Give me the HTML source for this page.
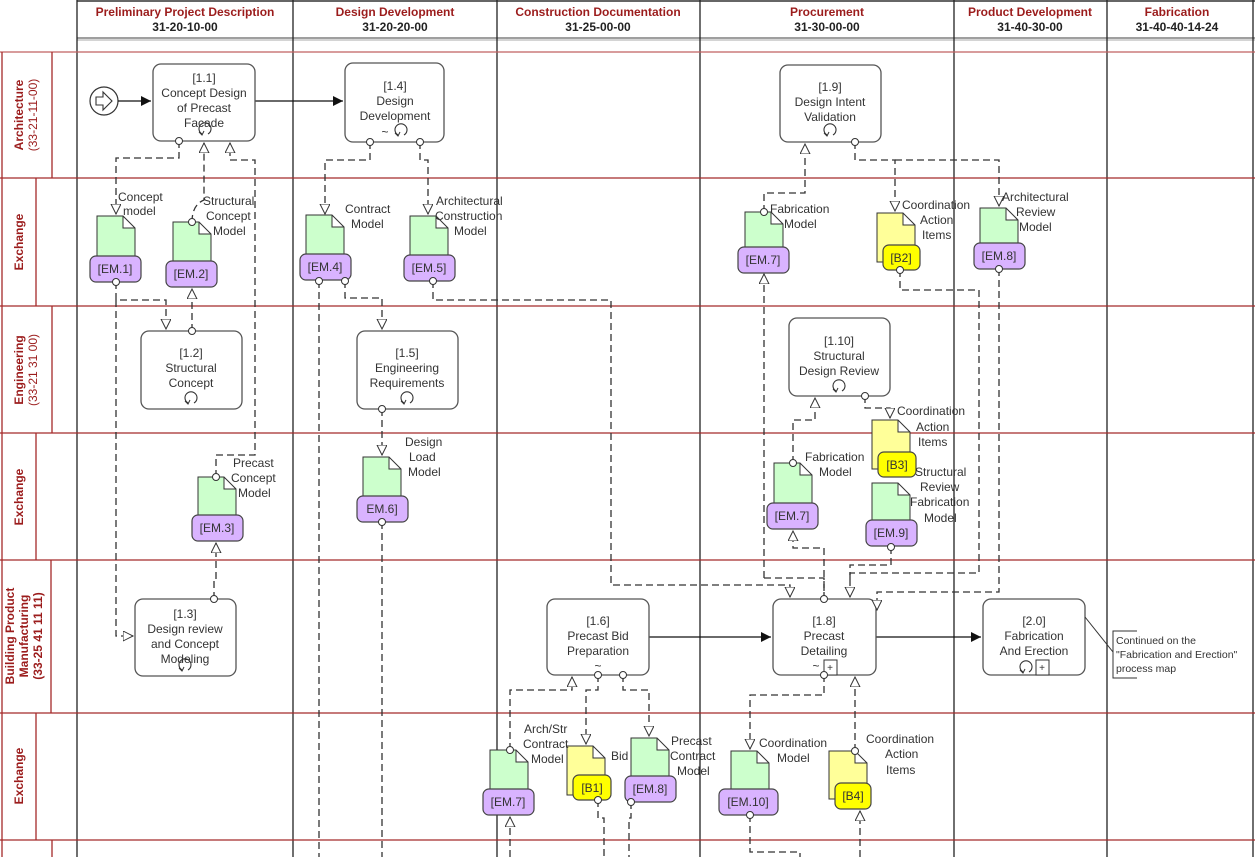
<!DOCTYPE html>
<html><head><meta charset="utf-8"><style>
html,body{margin:0;padding:0;background:#fff}
svg{display:block}
text{font-family:"Liberation Sans",sans-serif;font-size:12px;fill:#333}
.h{font-weight:bold;fill:#9b1c1c;font-size:12px}
.c{font-weight:bold;fill:#222;font-size:12px}
.lane{font-weight:bold;fill:#9b1c1c;font-size:12px}
.task{fill:#fff;stroke:#555;stroke-width:1.3}
.doc{fill:#ccffcc;stroke:#333;stroke-width:1}
.ydoc{fill:#ffff99;stroke:#333;stroke-width:1}
.pill{fill:#d9b3ff;stroke:#444;stroke-width:1.2}
.ypill{fill:#ffff00;stroke:#444;stroke-width:1.2}
.d{fill:none;stroke:#333;stroke-width:1.3;stroke-dasharray:7,4}
.s{fill:none;stroke:#111;stroke-width:1.2}
.rl{stroke:#a52a2a;stroke-width:1.3}
</style></head><body>
<svg width="1255" height="857" viewBox="0 0 1255 857" xmlns="http://www.w3.org/2000/svg">
<defs>
<marker id="tri" markerWidth="12" markerHeight="12" refX="10" refY="5" orient="auto" markerUnits="userSpaceOnUse"><path d="M0,0 L10,5 L0,10 Z" fill="#fff" stroke="#333" stroke-width="1"/></marker>
<marker id="cir" markerWidth="10" markerHeight="10" refX="5" refY="5" orient="auto" markerUnits="userSpaceOnUse"><circle cx="5" cy="5" r="3.5" fill="#fff" stroke="#333" stroke-width="1"/></marker>
<marker id="arr" markerWidth="12" markerHeight="12" refX="10" refY="5" orient="auto" markerUnits="userSpaceOnUse"><path d="M0,0 L10,5 L0,10 Z" fill="#111"/></marker>
<g id="loop"><path d="M-3,6 A6,6 0 1 1 3,6" fill="none" stroke="#333" stroke-width="1.1"/><path d="M-6,4 L-3,7 L-1,3" fill="none" stroke="#333" stroke-width="1"/></g>
</defs>

<!-- header -->
<line x1="77" y1="1" x2="1255" y2="1" stroke="#666" stroke-width="2"/>
<line x1="77" y1="38" x2="1255" y2="38" stroke="#666" stroke-width="1.3"/>
<line x1="77" y1="40" x2="1255" y2="40" stroke="#aaa" stroke-width="1"/>
<g stroke="#222" stroke-width="1.3">
<line x1="77" y1="0" x2="77" y2="857"/><line x1="293" y1="0" x2="293" y2="857"/><line x1="497" y1="0" x2="497" y2="857"/><line x1="700" y1="0" x2="700" y2="857"/><line x1="954" y1="0" x2="954" y2="857"/><line x1="1107" y1="0" x2="1107" y2="857"/><line x1="1253" y1="0" x2="1253" y2="857"/>
</g>
<text x="185" y="16" text-anchor="middle" class="h">Preliminary Project Description</text><text x="185" y="31" text-anchor="middle" class="c">31-20-10-00</text>
<text x="395" y="16" text-anchor="middle" class="h">Design Development</text><text x="395" y="31" text-anchor="middle" class="c">31-20-20-00</text>
<text x="598" y="16" text-anchor="middle" class="h">Construction Documentation</text><text x="598" y="31" text-anchor="middle" class="c">31-25-00-00</text>
<text x="827" y="16" text-anchor="middle" class="h">Procurement</text><text x="827" y="31" text-anchor="middle" class="c">31-30-00-00</text>
<text x="1030" y="16" text-anchor="middle" class="h">Product Development</text><text x="1030" y="31" text-anchor="middle" class="c">31-40-30-00</text>
<text x="1177" y="16" text-anchor="middle" class="h">Fabrication</text><text x="1177" y="31" text-anchor="middle" class="c">31-40-40-14-24</text>

<!-- lanes -->
<g class="rl">
<line x1="0" y1="52" x2="1255" y2="52" stroke="#c06060"/>
<line x1="0" y1="178" x2="1255" y2="178"/><line x1="0" y1="306" x2="1255" y2="306"/><line x1="0" y1="433" x2="1255" y2="433"/><line x1="0" y1="560" x2="1255" y2="560"/><line x1="0" y1="713" x2="1255" y2="713"/><line x1="0" y1="840" x2="1255" y2="840"/>
<line x1="2" y1="52" x2="2" y2="857"/>
<line x1="52" y1="52" x2="52" y2="178"/><line x1="36" y1="178" x2="36" y2="306"/><line x1="52" y1="306" x2="52" y2="433"/><line x1="36" y1="433" x2="36" y2="560"/><line x1="51" y1="560" x2="51" y2="713"/><line x1="36" y1="713" x2="36" y2="840"/><line x1="52" y1="840" x2="52" y2="857"/>
</g>
<text class="lane" transform="translate(23,115) rotate(-90)" text-anchor="middle">Architecture</text>
<text class="lane" transform="translate(37,115) rotate(-90)" text-anchor="middle" style="font-weight:normal">(33-21-11-00)</text>
<text class="lane" transform="translate(23,242) rotate(-90)" text-anchor="middle">Exchange</text>
<text class="lane" transform="translate(23,370) rotate(-90)" text-anchor="middle">Engineering</text>
<text class="lane" transform="translate(37,370) rotate(-90)" text-anchor="middle" style="font-weight:normal">(33-21 31 00)</text>
<text class="lane" transform="translate(23,497) rotate(-90)" text-anchor="middle">Exchange</text>
<text class="lane" transform="translate(14,636) rotate(-90)" text-anchor="middle">Building Product</text>
<text class="lane" transform="translate(28,636) rotate(-90)" text-anchor="middle">Manufacturing</text>
<text class="lane" transform="translate(42,636) rotate(-90)" text-anchor="middle">(33-25 41 11 11)</text>
<text class="lane" transform="translate(23,776) rotate(-90)" text-anchor="middle">Exchange</text>

<!-- solid flows -->
<circle cx="104" cy="101" r="14" fill="#fff" stroke="#333" stroke-width="1.2"/>
<path d="M96,97 h7 v-5 l9,9 l-9,9 v-5 h-7 z" fill="#fff" stroke="#333" stroke-width="1.1"/>
<path class="s" d="M118,101 H151" marker-end="url(#arr)"/>
<path class="s" d="M255,101 H343" marker-end="url(#arr)"/>
<path class="s" d="M649,637 H771" marker-end="url(#arr)"/>
<path class="s" d="M876,637 H981" marker-end="url(#arr)"/>

<!-- tasks -->
<rect class="task" x="153" y="64" width="102" height="77" rx="8"/>
<text x="204" y="82" text-anchor="middle">[1.1]</text><text x="204" y="97" text-anchor="middle">Concept Design</text><text x="204" y="112" text-anchor="middle">of Precast</text><text x="204" y="127" text-anchor="middle">Facade</text>
<use href="#loop" x="205" y="128"/>
<rect class="task" x="345" y="63" width="99" height="79" rx="8"/>
<text x="395" y="90" text-anchor="middle">[1.4]</text><text x="395" y="105" text-anchor="middle">Design</text><text x="395" y="120" text-anchor="middle">Development</text>
<text x="385" y="136" text-anchor="middle">~</text><use href="#loop" x="401" y="129"/>
<rect class="task" x="780" y="65" width="101" height="77" rx="8"/>
<text x="830" y="91" text-anchor="middle">[1.9]</text><text x="830" y="106" text-anchor="middle">Design Intent</text><text x="830" y="121" text-anchor="middle">Validation</text>
<use href="#loop" x="830" y="129"/>
<rect class="task" x="141" y="331" width="101" height="78" rx="8"/>
<text x="191" y="357" text-anchor="middle">[1.2]</text><text x="191" y="372" text-anchor="middle">Structural</text><text x="191" y="387" text-anchor="middle">Concept</text>
<use href="#loop" x="191" y="397"/>
<rect class="task" x="357" y="331" width="101" height="78" rx="8"/>
<text x="407" y="357" text-anchor="middle">[1.5]</text><text x="407" y="372" text-anchor="middle">Engineering</text><text x="407" y="387" text-anchor="middle">Requirements</text>
<use href="#loop" x="407" y="397"/>
<rect class="task" x="789" y="318" width="101" height="78" rx="8"/>
<text x="839" y="345" text-anchor="middle">[1.10]</text><text x="839" y="360" text-anchor="middle">Structural</text><text x="839" y="375" text-anchor="middle">Design Review</text>
<use href="#loop" x="839" y="385"/>
<rect class="task" x="135" y="599" width="101" height="77" rx="8"/>
<text x="185" y="618" text-anchor="middle">[1.3]</text><text x="185" y="633" text-anchor="middle">Design review</text><text x="185" y="648" text-anchor="middle">and Concept</text><text x="185" y="663" text-anchor="middle">Modeling</text>
<use href="#loop" x="185" y="664"/>
<rect class="task" x="547" y="599" width="102" height="76" rx="8"/>
<text x="598" y="625" text-anchor="middle">[1.6]</text><text x="598" y="640" text-anchor="middle">Precast Bid</text><text x="598" y="655" text-anchor="middle">Preparation</text>
<text x="598" y="670" text-anchor="middle">~</text>
<rect class="task" x="773" y="599" width="103" height="76" rx="8"/>
<text x="824" y="625" text-anchor="middle">[1.8]</text><text x="824" y="640" text-anchor="middle">Precast</text><text x="824" y="655" text-anchor="middle">Detailing</text>
<text x="816" y="670" text-anchor="middle">~</text><rect x="824" y="660" width="13" height="15" fill="#fff" stroke="#333"/><text x="830" y="671" text-anchor="middle" style="font-size:10px">+</text>
<rect class="task" x="983" y="599" width="102" height="76" rx="8"/>
<text x="1034" y="625" text-anchor="middle">[2.0]</text><text x="1034" y="640" text-anchor="middle">Fabrication</text><text x="1034" y="655" text-anchor="middle">And Erection</text>
<use href="#loop" x="1026" y="666"/><rect x="1036" y="660" width="13" height="15" fill="#fff" stroke="#333"/><text x="1042" y="671" text-anchor="middle" style="font-size:10px">+</text>
<path d="M1085,617 L1113,652" stroke="#333" fill="none"/>
<path d="M1137,631 H1113 V678 H1137" stroke="#333" fill="none"/>
<text x="1116" y="644" style="font-size:10.5px">Continued on the</text>
<text x="1116" y="658" style="font-size:10.5px">"Fabrication and Erection"</text>
<text x="1116" y="672" style="font-size:10.5px">process map</text>

<!-- docs -->
<g>
<path class="doc" d="M97,216 h26 l12,12 v34 h-38 z M123,216 v12 h12"/><rect class="pill" x="90" y="256" width="51" height="26" rx="6"/><text x="115" y="273" text-anchor="middle">[EM.1]</text>
<path class="doc" d="M173,222 h26 l12,12 v34 h-38 z M199,222 v12 h12"/><rect class="pill" x="166" y="261" width="51" height="26" rx="6"/><text x="191" y="278" text-anchor="middle">[EM.2]</text>
<path class="doc" d="M306,215 h26 l12,12 v34 h-38 z M332,215 v12 h12"/><rect class="pill" x="300" y="254" width="51" height="26" rx="6"/><text x="325" y="271" text-anchor="middle">[EM.4]</text>
<path class="doc" d="M410,216 h26 l12,12 v34 h-38 z M436,216 v12 h12"/><rect class="pill" x="404" y="255" width="51" height="26" rx="6"/><text x="429" y="272" text-anchor="middle">[EM.5]</text>
<path class="doc" d="M745,212 h26 l12,12 v34 h-38 z M771,212 v12 h12"/><rect class="pill" x="738" y="247" width="51" height="26" rx="6"/><text x="763" y="264" text-anchor="middle">[EM.7]</text>
<path class="ydoc" d="M877,213 h26 l12,12 v37 h-38 z M903,213 v12 h12"/><rect class="ypill" x="883" y="245" width="37" height="25" rx="6"/><text x="901" y="262" text-anchor="middle">[B2]</text>
<path class="doc" d="M980,208 h26 l12,12 v34 h-38 z M1006,208 v12 h12"/><rect class="pill" x="974" y="243" width="51" height="26" rx="6"/><text x="999" y="260" text-anchor="middle">[EM.8]</text>
<path class="doc" d="M198,477 h26 l12,12 v34 h-38 z M224,477 v12 h12"/><rect class="pill" x="192" y="515" width="51" height="26" rx="6"/><text x="217" y="532" text-anchor="middle">[EM.3]</text>
<path class="doc" d="M363,457 h26 l12,12 v34 h-38 z M389,457 v12 h12"/><rect class="pill" x="357" y="496" width="51" height="26" rx="6"/><text x="382" y="513" text-anchor="middle">EM.6]</text>
<path class="doc" d="M774,463 h26 l12,12 v34 h-38 z M800,463 v12 h12"/><rect class="pill" x="767" y="503" width="51" height="26" rx="6"/><text x="792" y="520" text-anchor="middle">[EM.7]</text>
<path class="ydoc" d="M872,420 h26 l12,12 v37 h-38 z M898,420 v12 h12"/><rect class="ypill" x="878" y="452" width="38" height="25" rx="6"/><text x="897" y="469" text-anchor="middle">[B3]</text>
<path class="doc" d="M872,483 h26 l12,12 v34 h-38 z M898,483 v12 h12"/><rect class="pill" x="866" y="520" width="51" height="26" rx="6"/><text x="891" y="537" text-anchor="middle">[EM.9]</text>
<path class="doc" d="M490,750 h26 l12,12 v34 h-38 z M516,750 v12 h12"/><rect class="pill" x="483" y="789" width="51" height="26" rx="6"/><text x="508" y="806" text-anchor="middle">[EM.7]</text>
<path class="ydoc" d="M567,746 h26 l12,12 v37 h-38 z M593,746 v12 h12"/><rect class="ypill" x="573" y="775" width="38" height="25" rx="6"/><text x="592" y="792" text-anchor="middle">[B1]</text>
<path class="doc" d="M631,738 h26 l12,12 v34 h-38 z M657,738 v12 h12"/><rect class="pill" x="625" y="776" width="51" height="26" rx="6"/><text x="650" y="793" text-anchor="middle">[EM.8]</text>
<path class="doc" d="M731,751 h26 l12,12 v30 h-38 z M757,751 v12 h12"/><rect class="pill" x="719" y="789" width="59" height="26" rx="6"/><text x="748" y="806" text-anchor="middle">[EM.10]</text>
<path class="ydoc" d="M829,751 h26 l12,12 v36 h-38 z M855,751 v12 h12"/><rect class="ypill" x="835" y="783" width="36" height="26" rx="6"/><text x="853" y="800" text-anchor="middle">[B4]</text>
</g>

<!-- dashed connectors (drawn on top so end markers are visible) -->
<g class="d">
<path d="M179,141 V158 H116 V214" marker-start="url(#cir)" marker-end="url(#tri)"/>
<path d="M192,222 Q192,205 204,200 V143" marker-start="url(#cir)" marker-end="url(#tri)"/>
<path d="M216,477 V455 H255 V160 H230 V143" marker-start="url(#cir)" marker-end="url(#tri)"/>
<path d="M116,282 V300 H166 V329" marker-start="url(#cir)" marker-end="url(#tri)"/>
<path d="M116,300 V636 H133" marker-end="url(#tri)"/>
<path d="M192,331 V289" marker-start="url(#cir)" marker-end="url(#tri)"/>
<path d="M214,599 V580 H216 V543" marker-start="url(#cir)" marker-end="url(#tri)"/>
<path d="M370,142 V160 H325 V214" marker-start="url(#cir)" marker-end="url(#tri)"/>
<path d="M420,142 V160 H428 V214" marker-start="url(#cir)" marker-end="url(#tri)"/>
<path d="M319,281 V857" marker-start="url(#cir)"/>
<path d="M345,281 V298 H382 V329" marker-start="url(#cir)" marker-end="url(#tri)"/>
<path d="M433,281 V300 H611 V585 H790 V597" marker-start="url(#cir)" marker-end="url(#tri)"/>
<path d="M382,409 V455" marker-start="url(#cir)" marker-end="url(#tri)"/>
<path d="M382,522 V857" marker-start="url(#cir)"/>
<path d="M764,212 V193 H805 V144" marker-start="url(#cir)" marker-end="url(#tri)"/>
<path d="M855,142 V160 H895 V211" marker-start="url(#cir)" marker-end="url(#tri)"/>
<path d="M895,160 H999 V206" marker-end="url(#tri)"/>
<path d="M764,578 V274" marker-end="url(#tri)"/>
<path d="M764,578 H824 V599"/>
<path d="M900,270 V290 H979 V573 H850 V597" marker-start="url(#cir)" marker-end="url(#tri)"/>
<path d="M999,269 V592 H877 V610" marker-start="url(#cir)" marker-end="url(#tri)"/>
<path d="M793,463 V420 H815 V398" marker-start="url(#cir)" marker-end="url(#tri)"/>
<path d="M865,396 V408 H890 V418" marker-start="url(#cir)" marker-end="url(#tri)"/>
<path d="M824,599 V548 H793 V531" marker-start="url(#cir)" marker-end="url(#tri)"/>
<path d="M891,547 V565 H850 V580" marker-start="url(#cir)"/>
<path d="M510,750 V690 H572 V677" marker-start="url(#cir)" marker-end="url(#tri)"/>
<path d="M598,675 V690 H586 V744" marker-start="url(#cir)" marker-end="url(#tri)"/>
<path d="M623,675 V690 H649 V736" marker-start="url(#cir)" marker-end="url(#tri)"/>
<path d="M824,675 V695 H750 V749" marker-start="url(#cir)" marker-end="url(#tri)"/>
<path d="M855,751 V677" marker-start="url(#cir)" marker-end="url(#tri)"/>
<path d="M510,857 V817" marker-end="url(#tri)"/>
<path d="M598,800 V818 H604 V857" marker-start="url(#cir)"/>
<path d="M631,802 V818 H629 V857" marker-start="url(#cir)"/>
<path d="M750,815 V852 H800 V857" marker-start="url(#cir)"/>
<path d="M860,857 V811" marker-end="url(#tri)"/>
</g>

<!-- doc labels -->
<g>
<text x="118" y="201">Concept</text><text x="123" y="215">model</text>
<text x="203" y="205">Structural</text><text x="206" y="220">Concept</text><text x="213" y="235">Model</text>
<text x="345" y="213">Contract</text><text x="351" y="228">Model</text>
<text x="436" y="205">Architectural</text><text x="435" y="220">Construction</text><text x="454" y="235">Model</text>
<text x="770" y="213">Fabrication</text><text x="784" y="228">Model</text>
<text x="902" y="209">Coordination</text><text x="920" y="224">Action</text><text x="922" y="239">Items</text>
<text x="1002" y="201">Architectural</text><text x="1016" y="216">Review</text><text x="1019" y="231">Model</text>
<text x="233" y="467">Precast</text><text x="231" y="482">Concept</text><text x="238" y="497">Model</text>
<text x="405" y="446">Design</text><text x="409" y="461">Load</text><text x="408" y="476">Model</text>
<text x="805" y="461">Fabrication</text><text x="819" y="476">Model</text>
<text x="897" y="415">Coordination</text><text x="916" y="431">Action</text><text x="918" y="446">Items</text>
<text x="915" y="476">Structural</text><text x="920" y="491">Review</text><text x="910" y="506">Fabrication</text><text x="924" y="522">Model</text>
<text x="524" y="733">Arch/Str</text><text x="523" y="748">Contract</text><text x="531" y="763">Model</text>
<text x="611" y="760">Bid</text>
<text x="671" y="745">Precast</text><text x="670" y="760">Contract</text><text x="677" y="775">Model</text>
<text x="759" y="747">Coordination</text><text x="777" y="762">Model</text>
<text x="866" y="743">Coordination</text><text x="885" y="758">Action</text><text x="886" y="774">Items</text>
</g>
</svg>
</body></html>
